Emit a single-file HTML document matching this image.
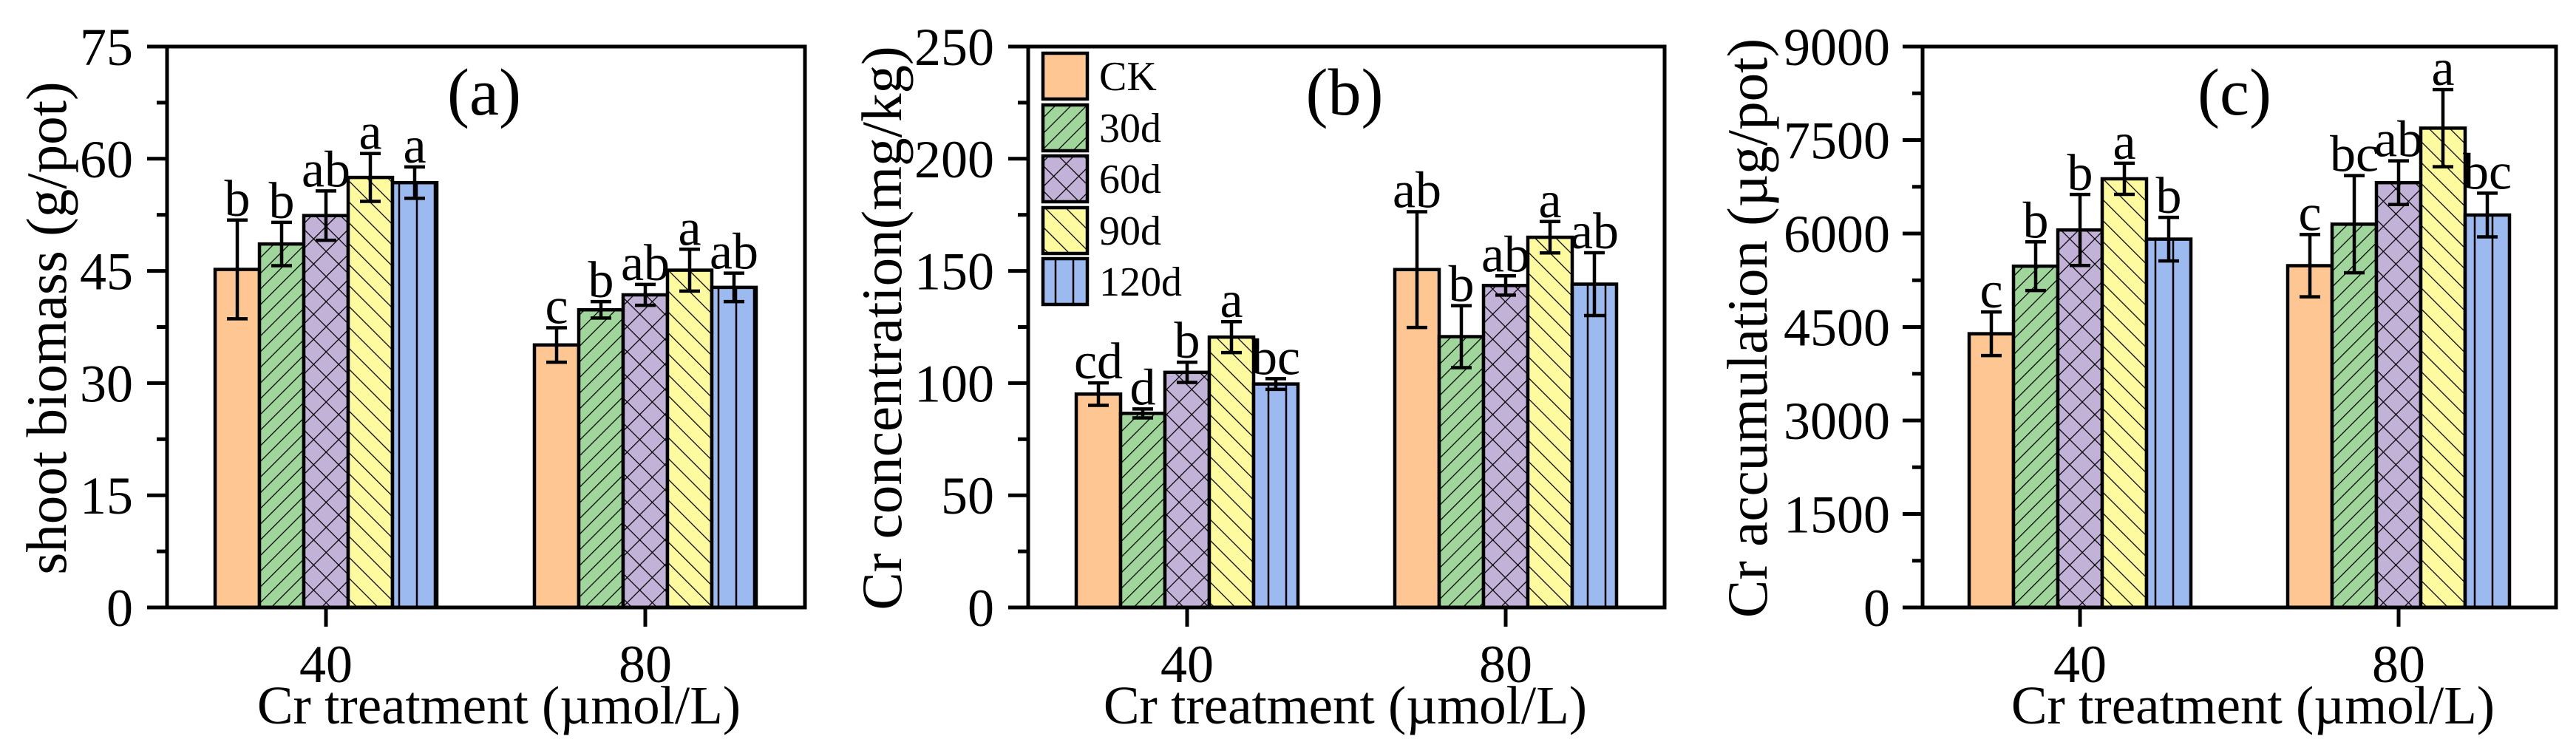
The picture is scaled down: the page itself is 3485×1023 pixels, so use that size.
<!DOCTYPE html>
<html><head><meta charset="utf-8">
<style>
html,body{margin:0;padding:0;background:#fff;}
svg{display:block;font-family:"Liberation Serif","Times New Roman",serif;}
</style></head>
<body>
<svg id="chart" width="3485" height="1023" viewBox="0 0 3485 1023" xmlns="http://www.w3.org/2000/svg">
<defs>
<pattern id="p-green" patternUnits="userSpaceOnUse" width="15" height="15" patternTransform="rotate(45)">
<rect width="15" height="15" fill="#a0d69c"/><line x1="0" y1="0" x2="0" y2="15" stroke="#000" stroke-width="2.5"/></pattern>
<pattern id="p-purple" patternUnits="userSpaceOnUse" width="24" height="24" patternTransform="rotate(45)">
<rect width="24" height="24" fill="#c2b2d8"/><line x1="0" y1="0" x2="0" y2="24" stroke="#000" stroke-width="2.5"/><line x1="0" y1="0" x2="24" y2="0" stroke="#000" stroke-width="2.5"/></pattern>
<pattern id="p-yellow" patternUnits="userSpaceOnUse" width="20" height="20" patternTransform="rotate(-45)">
<rect width="20" height="20" fill="#fefaa0"/><line x1="0" y1="0" x2="0" y2="20" stroke="#000" stroke-width="2.5"/></pattern>
<pattern id="p-blue" patternUnits="userSpaceOnUse" width="24" height="20">
<rect width="24" height="20" fill="#9cb9f0"/><line x1="12" y1="0" x2="12" y2="20" stroke="#000" stroke-width="2.5"/></pattern>
</defs>
<g id="root"></g>
</svg>
<script>
const seriesNames = ["CK","30d","60d","90d","120d"];
const groupLabels = ["40","80"];
const aValues = [[45.2,48.6,52.4,57.5,56.8],[35.1,39.8,41.8,45.1,42.8]];
const aErrors = [[6.6,2.9,3.3,3.2,2.1],[2.3,1.1,1.4,2.8,1.9]];
const aLetters = [["b","b","ab","a","a"],["c","b","ab","a","ab"]];
const aTicks = [0,15,30,45,60,75];
const bValues = [[95.1,86.5,104.8,120.5,99.6],[150.6,120.7,143.5,165,144.1]];
const bErrors = [[5,2,4.5,6.9,2.4],[25.8,13.8,4.3,7,14]];
const bLetters = [["cd","d","b","a","bc"],["ab","b","ab","a","ab"]];
const bTicks = [0,50,100,150,200,250];
const cValues = [[4392,5476,6057,6878,5910],[5484,6150,6816,7691,6297]];
const cErrors = [[350,390,570,250,350],[500,780,350,620,350]];
const cLetters = [["c","b","b","a","b"],["c","bc","ab","a","bc"]];
const cTicks = [0,1500,3000,4500,6000,7500,9000];

const fills = ["#fec692","url(#p-green)","url(#p-purple)","url(#p-yellow)","url(#p-blue)"];
const NS = "http://www.w3.org/2000/svg";
const root = document.getElementById("root");
function mk(tag, attrs, parent, text){
  const e = document.createElementNS(NS, tag);
  for (const k in attrs) e.setAttribute(k, attrs[k]);
  if (text !== undefined) e.textContent = text;
  (parent||root).appendChild(e);
  return e;
}
const panels = [
  {id:"a", L:226, R:1089, groups:[441,873], ymax:75, ticks:aTicks, vals:aValues, errs:aErrors, lets:aLetters, lblR:180, titleX:63, title:"shoot biomass (g/pot)", pl:"(a)", plX:655, xt:675},
  {id:"b", L:1391, R:2252, groups:[1606,2037], ymax:250, ticks:bTicks, vals:bValues, errs:bErrors, lets:bLetters, lblR:1345, titleX:1193, title:"Cr concentration(mg/kg)", pl:"(b)", plX:1819, xt:1820},
  {id:"c", L:2601, R:3458, groups:[2814,3245], ymax:9000, ticks:cTicks, vals:cValues, errs:cErrors, lets:cLetters, lblR:2557, titleX:2364, title:"Cr accumulation (\u00b5g/pot)", pl:"(c)", plX:3023, xt:3048}
];
const T = 63, B = 822, BW = 60;
panels.forEach(p => {
  const g = mk("g", {});
  
  
  const y = v => B - (v / p.ymax) * (B - T);
  p.vals.forEach((row, gi) => {
    row.forEach((v, si) => {
      const x0 = p.groups[gi] + (si - 2.5) * BW;
      const r = mk("rect", {x:x0, y:y(v), width:BW, height:B - y(v), fill:fills[si], stroke:"#000", "stroke-width":4.5}, g);
      
      
      const cx = x0 + BW / 2, e = p.errs[gi][si];
      const eb = mk("path", {d:`M${cx} ${y(v+e)}V${y(v-e)}M${cx-14} ${y(v+e)}H${cx+14}M${cx-14} ${y(v-e)}H${cx+14}`, stroke:"#000", "stroke-width":4.5, fill:"none"}, g);
      
      
      const t = mk("text", {x:cx, y:y(v+e) - 6, "text-anchor":"middle", "font-size":70}, g, p.lets[gi][si]);
      
      
    });
  });
  const fr = mk("rect", {x:p.L, y:T, width:p.R - p.L, height:B - T, fill:"none", stroke:"#000", "stroke-width":5}, g);
  
  
  mk("line", {x1:p.L - 27, y1:B, x2:p.L, y2:B, stroke:"#000", "stroke-width":5}, g);
  p.ticks.forEach((tv, i) => {
    mk("line", {x1:p.L - 27, y1:y(tv), x2:p.L, y2:y(tv), stroke:"#000", "stroke-width":5}, g);
    const lb = mk("text", {x:p.lblR, y:y(tv) + 25, "text-anchor":"end", "font-size":72}, g, String(tv));
    
    
    if (i < p.ticks.length - 1) {
      const mv = (tv + p.ticks[i+1]) / 2;
      mk("line", {x1:p.L - 14, y1:y(mv), x2:p.L, y2:y(mv), stroke:"#000", "stroke-width":5}, g);
    }
  });
  p.groups.forEach((gx, gi) => {
    mk("line", {x1:gx, y1:B, x2:gx, y2:B + 26, stroke:"#000", "stroke-width":5}, g);
    const lb = mk("text", {x:gx, y:923, "text-anchor":"middle", "font-size":72}, g, groupLabels[gi]);
    
    
  });
  const xt = mk("text", {x:p.xt, y:979, "text-anchor":"middle", "font-size":73}, g, "Cr treatment (\u00b5mol/L)");
  
  
  const yt = mk("text", {x:0, y:0, "text-anchor":"middle", "font-size":77, transform:`translate(${p.titleX + 26},444) rotate(-90)`}, g, p.title);
  
  
  const pl = mk("text", {x:p.plX, y:155, "text-anchor":"middle", "font-size":90}, g, p.pl);
  
  
});
const lg = mk("g", {});


const legY = [103,173,242,312,381];
seriesNames.forEach((n, i) => {
  const r = mk("rect", {x:1411, y:legY[i] - 31, width:60, height:62, fill:fills[i], stroke:"#000", "stroke-width":4.5}, lg);
  
  
  const t = mk("text", {x:1487, y:legY[i] + 19, "font-size":56}, lg, n);
  
  
});
</script>
</body></html>
